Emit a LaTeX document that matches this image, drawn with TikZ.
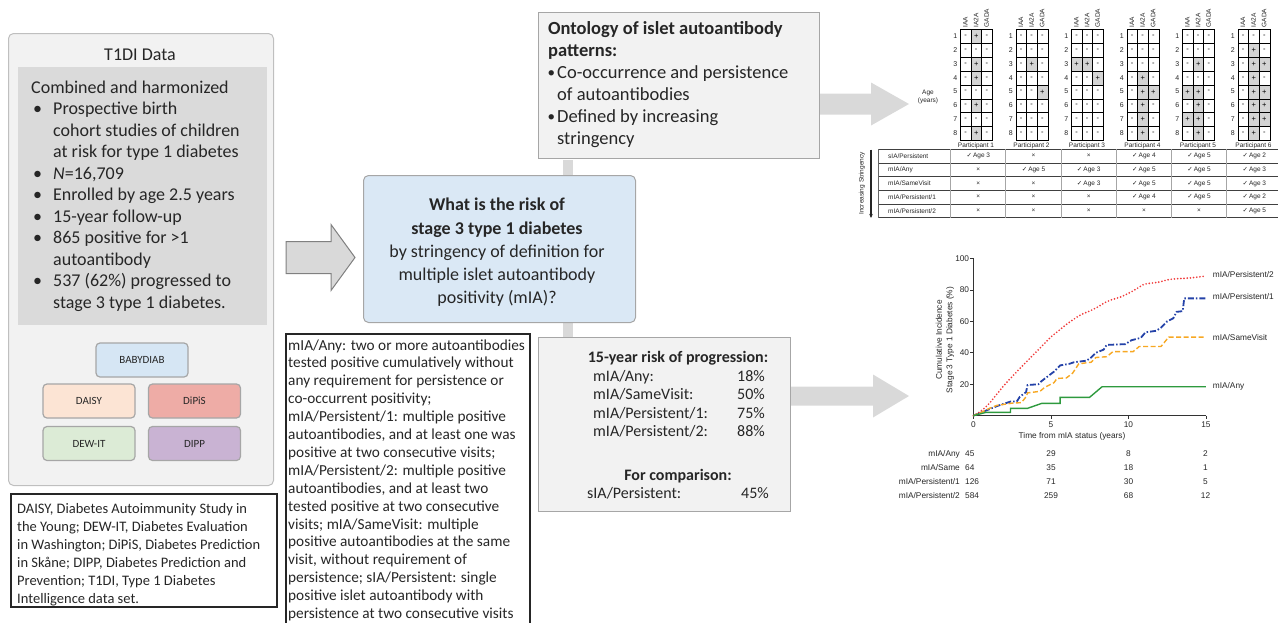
\documentclass[tikz,border=0pt]{standalone}
\usepackage{fontspec}
\setmainfont{Carlito}
\newfontfamily\arial{Liberation Sans}
\newfontfamily\dejavu{DejaVu Sans}
\usetikzlibrary{calc,arrows.meta}
\definecolor{boxgray}{HTML}{F2F2F2}
\definecolor{innergray}{HTML}{DADADA}
\definecolor{bordergray}{HTML}{A6A6A6}
\definecolor{arrowgray}{HTML}{D9D9D9}
\definecolor{qblue}{HTML}{DAE8F5}
\definecolor{cbaby}{HTML}{D6E6F4}
\definecolor{cdaisy}{HTML}{FCE4D4}
\definecolor{cdipis}{HTML}{EEACA6}
\definecolor{cdewit}{HTML}{DCEBD6}
\definecolor{cdipp}{HTML}{C9B3D3}
\definecolor{cred}{HTML}{F03C3C}
\definecolor{cblue}{HTML}{2442A8}
\definecolor{corange}{HTML}{F7A823}
\definecolor{cgreen}{HTML}{2E9A3E}
\definecolor{cellgray}{HTML}{D4D4D4}
\definecolor{ink}{HTML}{262626}
\begin{document}
\begin{tikzpicture}[x=1pt,y=-1pt,
  panel/.style={draw=bordergray, line width=1pt, fill=boxgray, inner sep=0pt, anchor=north west},
  cohort/.style={draw=bordergray, line width=1.2pt, rounded corners=4pt, inner sep=0pt, minimum width=92pt, minimum height=34pt, font=\fontsize{11}{13}\selectfont, text=ink},
  bigtxt/.style={inner sep=0pt, anchor=base west, font=\fontsize{18}{21.5}\selectfont, text=ink},
  qtxt/.style={inner sep=0pt, anchor=base, font=\fontsize{18}{21.5}\selectfont, text=ink},
  ontotxt/.style={inner sep=0pt, anchor=base west, font=\fontsize{18.5}{22}\selectfont, text=ink},
  risktxt/.style={inner sep=0pt, anchor=base west, font=\fontsize{16}{18.5}\selectfont, text=ink},
  deftxt/.style={inner sep=0pt, anchor=base west, font=\fontsize{15.3}{17.9}\selectfont, text=ink},
  legtxt/.style={inner sep=0pt, anchor=base west, font=\fontsize{14.5}{18}\selectfont, text=ink},
  blackbox/.style={draw=ink, line width=2pt, inner sep=0pt, anchor=north west},
  small/.style={inner sep=0pt, font=\arial\fontsize{6.5}{8.5}\selectfont, text=ink},
  cell/.style={draw=black, line width=0.45pt, inner sep=0pt, minimum width=10.67pt, minimum height=13.85pt, font=\arial\fontsize{7.5}{8}\selectfont, text=black},
  chartlab/.style={inner sep=0pt, font=\arial\fontsize{8.3}{10.5}\selectfont, text=ink},
  axis/.style={line width=0.6pt, black!80}
]
\useasboundingbox (0,0) rectangle (1278,622);

% ---------- left data panel ----------
\node[panel, draw=black!25, rounded corners=5pt, minimum width=265pt, minimum height=452pt] (t1di) at (8,33) {};
\node[fill=innergray, inner sep=0pt, anchor=north west, minimum width=249pt, minimum height=258pt] (t1inner) at (18,67) {};
\node[qtxt] (t1title) at (140,60) {T1DI Data};
\node[bigtxt] (l1) at (31,93) {Combined and harmonized};
\node[bigtxt] (b2) at (33,114.5) {•};
\node[bigtxt] (l2) at (53,114.5) {Prospective birth};
\node[bigtxt] (l3) at (53,136) {cohort studies of children};
\node[bigtxt] (l4) at (53,157.5) {at risk for type 1 diabetes};
\node[bigtxt] (b5) at (33,179) {•};
\node[bigtxt] (l5) at (53,179) {\textit{N}=16,709};
\node[bigtxt] (b6) at (33,200.5) {•};
\node[bigtxt] (l6) at (53,200.5) {Enrolled by age 2.5 years};
\node[bigtxt] (b7) at (33,222) {•};
\node[bigtxt] (l7) at (53,222) {15-year follow-up};
\node[bigtxt] (b8) at (33,243.5) {•};
\node[bigtxt] (l8) at (53,243.5) {865 positive for >1};
\node[bigtxt] (l9) at (53,265) {autoantibody};
\node[bigtxt] (b10) at (33,286.5) {•};
\node[bigtxt] (l10) at (53,286.5) {537 (62\%) progressed to};
\node[bigtxt] (l11) at (53,308) {stage 3 type 1 diabetes.};

\node[cohort, fill=cbaby] (baby) at (142,360) {BABYDIAB};
\node[cohort, fill=cdaisy] (daisy) at (89,401) {DAISY};
\node[cohort, fill=cdipis] (dipis) at (194.5,401) {DiPiS};
\node[cohort, fill=cdewit] (dewit) at (89,443.5) {DEW-IT};
\node[cohort, fill=cdipp] (dipp) at (194.5,443.5) {DIPP};

% ---------- legend ----------
\node[blackbox, minimum width=266pt, minimum height=113pt] (legend) at (10,493) {};
\node[legtxt] (lg1) at (17,513) {DAISY, Diabetes Autoimmunity Study in};
\node[legtxt] (lg2) at (17,531) {the Young; DEW-IT, Diabetes Evaluation};
\node[legtxt] (lg3) at (17,549) {in Washington; DiPiS, Diabetes Prediction};
\node[legtxt] (lg4) at (17,567) {in Skåne; DIPP, Diabetes Prediction and};
\node[legtxt] (lg5) at (17,585) {Prevention; T1DI, Type 1 Diabetes};
\node[legtxt] (lg6) at (17,603) {Intelligence data set.};

% ---------- big arrow ----------
\draw[draw=black!50, line width=1pt, fill=arrowgray, line join=miter]
  ($(t1di.east)+(12,-18)$) -- ++(45,0) -- ++(0,-17) -- ++(24,33) -- ++(-24,33) -- ++(0,-17) -- ++(-45,0) -- cycle;

% ---------- ontology and risk panels ----------
\node[panel, minimum width=281pt, minimum height=146pt] (onto) at (538,12) {};
\node[panel, minimum width=252pt, minimum height=174pt] (risk) at (538,337) {};
\fill[arrowgray] ($(onto.south west)+(25,0.5)$) rectangle ($(risk.north west)+(35,-0.5)$);

\node[ontotxt, font=\bfseries\fontsize{18.5}{22}\selectfont] (o1) at (548,34) {Ontology of islet autoantibody};
\node[ontotxt, font=\bfseries\fontsize{18.5}{22}\selectfont] (o2) at (548,56) {patterns:};
\node[ontotxt, font=\fontsize{15}{22}\selectfont] (ob3) at (547.5,77) {•};
\node[ontotxt] (o3) at (557,78) {Co-occurrence and persistence};
\node[ontotxt] (o4) at (557,100) {of autoantibodies};
\node[ontotxt, font=\fontsize{15}{22}\selectfont] (ob5) at (547.5,121) {•};
\node[ontotxt] (o5) at (557,122) {Defined by increasing};
\node[ontotxt] (o6) at (557,144) {stringency};

\fill[arrowgray] ($(onto.east)+(0,8)$) -- ++(51,0) -- ++(0,-11) -- ++(38,21.5) -- ++(-38,21.5) -- ++(0,-11) -- ++(-51,0) -- cycle;

\node[risktxt, anchor=base, font=\bfseries\fontsize{16}{18.5}\selectfont] (r0) at (678,362) {15-year risk of progression:};
\node[risktxt] (r1) at (593,381) {mIA/Any:};
\node[risktxt, anchor=base east] (r1v) at (765,381) {18\%};
\node[risktxt] (r2) at (593,399.5) {mIA/SameVisit:};
\node[risktxt, anchor=base east] (r2v) at (765,399.5) {50\%};
\node[risktxt] (r3) at (593,418) {mIA/Persistent/1:};
\node[risktxt, anchor=base east] (r3v) at (765,418) {75\%};
\node[risktxt] (r4) at (593,436.5) {mIA/Persistent/2:};
\node[risktxt, anchor=base east] (r4v) at (765,436.5) {88\%};
\node[risktxt, anchor=base, font=\bfseries\fontsize{16}{18.5}\selectfont] (r5) at (678,480) {For comparison:};
\node[risktxt] (r6) at (587,498.5) {sIA/Persistent:};
\node[risktxt, anchor=base east] (r6v) at (769,498.5) {45\%};

\fill[arrowgray] ($(risk.east)+(0,-38)$) -- ++(82,0) -- ++(0,-12) -- ++(36,21.5) -- ++(-36,21.5) -- ++(0,-12) -- ++(-82,0) -- cycle;

% ---------- central question ----------
\node[draw=bordergray, line width=1pt, fill=qblue, rounded corners=5pt, inner sep=0pt, anchor=north west, minimum width=272pt, minimum height=147pt] (q) at (363,175) {};
\node[qtxt, font=\bfseries\fontsize{18}{21.5}\selectfont] (q1) at (497,210) {What is the risk of};
\node[qtxt, font=\bfseries\fontsize{18}{21.5}\selectfont] (q2) at (497,234) {stage 3 type 1 diabetes};
\node[qtxt] (q3) at (497,257) {by stringency of definition for};
\node[qtxt] (q4) at (497,280) {multiple islet autoantibody};
\node[qtxt] (q5) at (497,303) {positivity (mIA)?};

% ---------- definitions ----------
\node[blackbox, minimum width=244pt, minimum height=300pt] (defs) at (285,333) {};
\foreach \txt [count=\i] in {{mIA/Any: two or more autoantibodies},{tested positive cumulatively without},{any requirement for persistence or},{co-occurrent positivity;},{mIA/Persistent/1: multiple positive},{autoantibodies, and at least one was},{positive at two consecutive visits;},{mIA/Persistent/2: multiple positive},{autoantibodies, and at least two},{tested positive at two consecutive},{visits; mIA/SameVisit: multiple},{positive autoantibodies at the same},{visit, without requirement of},{persistence; sIA/Persistent: single},{positive islet autoantibody with},{persistence at two consecutive visits}}
  \node[deftxt] (def\i) at (288,{350+17.9*(\i-1)}) {\txt};

% ---------- participant grids ----------
\node[small, align=center] (agelab) at (928,97) {Age\\(years)};
\foreach \p in {1,...,6} {
  \pgfmathsetmacro\gl{960+55.5*(\p-1)}
  \foreach \c/\lab in {1/IAA,2/IA2A,3/GADA}
    \node[small, rotate=90, anchor=west] (h\p-\c) at ({\gl+10.67*\c-5.33},27.5) {\lab};
  \foreach \r in {1,...,8} {
    \pgfmathsetmacro\gt{29.3+13.85*(\r-1)}
    \node[small, anchor=east, font=\arial\fontsize{7}{8}\selectfont] (rl\p-\r) at ({\gl-2.5},{\gt+6.9}) {\r};
    \foreach \c in {1,2,3}
      \node[cell, anchor=north west] (cell\p-\r-\c) at ({\gl+10.67*(\c-1)},\gt) {-};
  }
  \node[small] (pl\p) at ({\gl+16},145.5) {Participant \p};
}
\foreach \p/\r/\c in {1/1/2,1/3/2,1/4/2,1/6/2,1/8/2,
  2/3/2,2/5/3,
  3/3/1,3/3/2,3/4/3,
  4/4/2,4/5/2,4/5/3,4/6/2,4/7/2,4/8/2,
  5/3/2,5/5/1,5/5/2,5/6/2,5/7/1,5/7/2,5/8/2,
  6/2/2,6/3/2,6/3/3,6/4/2,6/5/2,6/5/3,6/6/2,6/6/3,6/7/2,6/7/3,6/8/2}
  \node[cell, fill=cellgray] (plus\p-\r-\c) at (cell\p-\r-\c.center) {+};

% ---------- stringency table ----------
\foreach \k in {0,...,5}
  \draw[black!75, line width=0.5pt] (878,{149.3+13.68*\k}) -- (1282,{149.3+13.68*\k});
\draw[black!60, line width=0.8pt] (878,149.3) -- (878,217.7);
\foreach \k in {0,...,6}
  \draw[black!35, line width=0.9pt] ({950.7+55.2*\k},149.3) -- ({950.7+55.2*\k},217.7);
\foreach \lab [count=\i] in {sIA/Persistent,mIA/Any,mIA/SameVisit,mIA/Persistent/1,mIA/Persistent/2}
  \node[small, anchor=west] (tr\i) at (888,{149.3+13.68*(\i-0.5)}) {\lab};
\foreach \i/\vals in {1/{3,0,0,4,5,2},2/{0,5,3,5,5,3},3/{0,0,3,5,5,3},4/{0,0,0,4,5,2},5/{0,0,0,0,0,5}} {
  \foreach \v [count=\j] in \vals {
    \node[small] (tc\i-\j) at ({950.7+55.2*(\j-0.5)},{149.3+13.68*(\i-0.5)})
      {\ifnum\v=0 ×\else{\dejavu ✓}\,Age \v\fi};
  }
}
\coordinate (istop) at (871,149.5);
\coordinate (isbot) at (871,218);
\draw[ink, line width=1.1pt, -{Stealth[length=4pt,width=3.5pt]}] (istop) -- (isbot);
\node[small, rotate=90] (istext) at (862,183.5) {Increasing Stringency};

% ---------- cumulative incidence chart ----------
\node[chartlab, rotate=90, align=center] (ylab) at (945,340) {Cumulative Incidence\\Stage 3 Type 1 Diabetes (\%)};
\begin{scope}[shift={(973.3,415.7)}, x=15.51pt, y=1.573pt]
  \draw[axis] (0,100) -- (0,0) -- (15,0);
  \foreach \v in {20,40,60,80,100} {
    \draw[axis] (0,\v) -- ++(-3pt,0);
    \node[chartlab, anchor=east] (yt\v) at ($(0,\v)+(-4pt,0)$) {\v};
  }
  \foreach \t in {0,5,10,15} {
    \draw[axis] (\t,0) -- ++(0,-3pt);
    \node[chartlab] (xt\t) at ($(\t,0)+(0,-9pt)$) {\t};
  }
  \draw[cred, line width=1.9pt, line cap=round, dash pattern=on 0pt off 3.2pt]
    plot[smooth] coordinates {(0,0) (0.5,3) (1,7.5) (1.5,13.5) (2,19.5) (2.5,24.8) (3,30) (3.5,35) (4,40) (4.5,45) (5,50) (5.5,54) (6,58) (6.5,61.5) (7,64.5) (7.5,66.5) (8,69) (8.5,72) (9,74) (9.5,75.5) (10,77.8) (10.5,80.5) (11,83.5) (11.5,84.3) (12,85) (12.5,86.3) (13,87) (14,87.6) (15,88.8)};
  \draw[cblue, line width=1.8pt, dash pattern=on 6pt off 2pt on 1.5pt off 2pt]
    (0,0) -- (0.9,3.6) -- (1.5,6) -- (2.4,9) -- (2.8,9) -- (3.0,12) -- (3.4,15) -- (3.5,19.5) -- (4.2,20) -- (4.4,22) -- (4.8,25) -- (5.2,28) -- (5.6,32) -- (6.2,33) -- (6.5,34) -- (7.3,35) -- (7.6,37) -- (7.9,40) -- (8.4,42) -- (8.6,45) -- (9.8,45.5) -- (10.2,48) -- (10.8,49.5) -- (11.1,53) -- (11.8,54) -- (12.1,56) -- (12.5,60) -- (12.9,62) -- (13.1,66) -- (13.5,66.5) -- (13.6,74.6) -- (15,74.6);
  \draw[corange, line width=1.4pt, dash pattern=on 5pt off 2.5pt]
    (0,0) -- (0.6,2.5) -- (1.0,4.5) -- (1.5,6.5) -- (2.5,8) -- (3.1,8.3) -- (3.4,12) -- (3.5,14.5) -- (4.3,15.5) -- (4.6,18) -- (5.2,21) -- (5.4,23.7) -- (6.0,24) -- (6.4,27) -- (6.8,33) -- (7.6,34) -- (7.9,37) -- (8.6,37.5) -- (9.0,40.7) -- (10.3,40.7) -- (10.7,44) -- (12.1,44) -- (12.6,50) -- (15,50);
  \draw[cgreen, line width=1.4pt]
    (0,0) -- (0.8,2.1) -- (2.4,2.1) -- (2.4,4.7) -- (3.5,4.7) -- (4.4,7.8) -- (5.6,7.8) -- (5.6,11.7) -- (7.5,11.7) -- (8.3,18.4) -- (15,18.4);
\end{scope}
\node[chartlab, anchor=west] (lp2) at (1212.7,275) {mIA/Persistent/2};
\node[chartlab, anchor=west] (lp1) at (1212.7,297) {mIA/Persistent/1};
\node[chartlab, anchor=west] (lsv) at (1212.7,337.5) {mIA/SameVisit};
\node[chartlab, anchor=west] (lany) at (1212.7,386) {mIA/Any};
\node[chartlab] (xlab) at (1072,436.5) {Time from mIA status (years)};

% ---------- numbers at risk ----------
\foreach \lab [count=\i] in {{mIA/Any},{mIA/Same},{mIA/Persistent/1},{mIA/Persistent/2}}
  \node[chartlab, anchor=east] (nr\i) at (960,{454+14*(\i-1)}) {\lab};
\foreach \a/\b/\c/\d [count=\i] in {45/29/8/2,64/35/18/1,126/71/30/5,584/259/68/12} {
  \node[chartlab, anchor=west] (na\i) at (965,{454+14*(\i-1)}) {\a};
  \node[chartlab] (nb\i) at (1051,{454+14*(\i-1)}) {\b};
  \node[chartlab] (nc\i) at (1128.5,{454+14*(\i-1)}) {\c};
  \node[chartlab] (nd\i) at (1205.5,{454+14*(\i-1)}) {\d};
}
\end{tikzpicture}
\end{document}
